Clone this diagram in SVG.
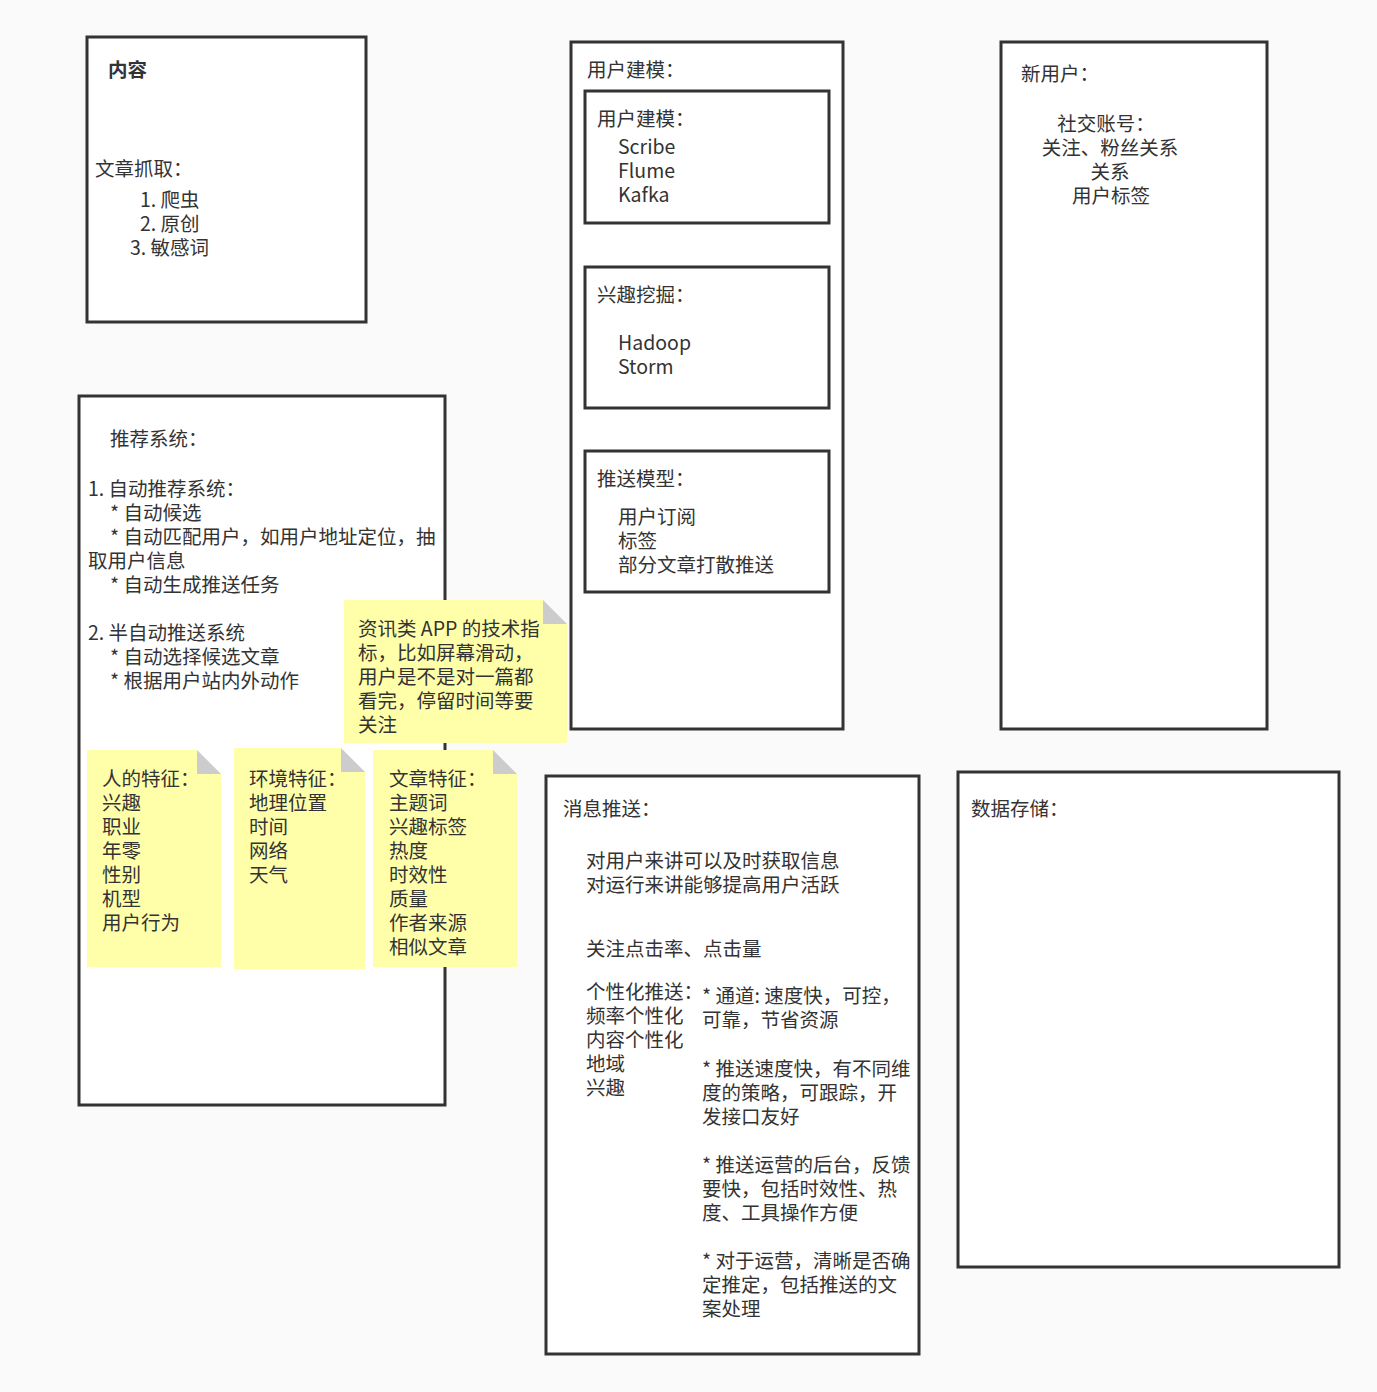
<svg xmlns="http://www.w3.org/2000/svg" width="1377" height="1392" viewBox="0 0 1377 1392">
<style>
.box{fill:#ffffff;stroke:#333333;stroke-width:3}
.note{fill:#ffffaa;stroke:none}
.fold{fill:#cccccc;stroke:none}
text{font-family:"Noto Sans CJK SC","Microsoft YaHei",sans-serif;font-size:19.5px;fill:#333333}
.b{font-weight:bold}
.c{text-anchor:middle}
</style>
<rect x="0" y="0" width="1377" height="1392" fill="#fafafa"/>
<g id="connectors"></g>

<g id="content">
<rect class="box" x="87" y="37" width="279" height="285"/>
<text class="b" x="108" y="77">内容</text>
<text x="95" y="176">文章抓取：</text>
<text x="140" y="207">1. 爬虫</text>
<text x="140" y="231">2. 原创</text>
<text x="130" y="255">3. 敏感词</text>
</g>

<g id="recommend">
<rect class="box" x="79" y="396" width="366" height="709"/>
<text x="110" y="446">推荐系统：</text>
<text x="88" y="496">1. 自动推荐系统：</text>
<text x="110" y="520">* 自动候选</text>
<text x="110" y="544">* 自动匹配用户，如用户地址定位，抽</text>
<text x="88" y="568">取用户信息</text>
<text x="110" y="592">* 自动生成推送任务</text>
<text x="88" y="640">2. 半自动推送系统</text>
<text x="110" y="664">* 自动选择候选文章</text>
<text x="110" y="688">* 根据用户站内外动作</text>
</g>

<g id="note-app">
<polygon class="note" points="344,600 543,600 567,624 567,743 344,743"/>
<polygon class="fold" points="543,600 567,624 543,624"/>
<text x="358" y="636">资讯类 APP 的技术指</text>
<text x="358" y="660">标，比如屏幕滑动，</text>
<text x="358" y="684">用户是不是对一篇都</text>
<text x="358" y="708">看完，停留时间等要</text>
<text x="358" y="732">关注</text>
</g>

<g id="note-person">
<polygon class="note" points="87,750 197,750 221,774 221,967 87,967"/>
<polygon class="fold" points="197,750 221,774 197,774"/>
<text x="102" y="786">人的特征：</text>
<text x="102" y="810">兴趣</text>
<text x="102" y="834">职业</text>
<text x="102" y="858">年零</text>
<text x="102" y="882">性别</text>
<text x="102" y="906">机型</text>
<text x="102" y="930">用户行为</text>
</g>

<g id="note-env">
<polygon class="note" points="234,748 341,748 365,772 365,969 234,969"/>
<polygon class="fold" points="341,748 365,772 341,772"/>
<text x="249" y="786">环境特征：</text>
<text x="249" y="810">地理位置</text>
<text x="249" y="834">时间</text>
<text x="249" y="858">网络</text>
<text x="249" y="882">天气</text>
</g>

<g id="note-article">
<polygon class="note" points="373,750 493,750 517,774 517,967 373,967"/>
<polygon class="fold" points="493,750 517,774 493,774"/>
<text x="389" y="786">文章特征：</text>
<text x="389" y="810">主题词</text>
<text x="389" y="834">兴趣标签</text>
<text x="389" y="858">热度</text>
<text x="389" y="882">时效性</text>
<text x="389" y="906">质量</text>
<text x="389" y="930">作者来源</text>
<text x="389" y="954">相似文章</text>
</g>

<g id="user-modeling">
<rect class="box" x="571" y="42" width="272" height="687"/>
<text x="587" y="77">用户建模：</text>
</g>

<g id="user-modeling-inner">
<rect class="box" x="585" y="91" width="244" height="132"/>
<text x="597" y="126">用户建模：</text>
<text x="618" y="154">Scribe</text>
<text x="618" y="178">Flume</text>
<text x="618" y="202">Kafka</text>
</g>

<g id="interest-mining">
<rect class="box" x="585" y="267" width="244" height="141"/>
<text x="597" y="302">兴趣挖掘：</text>
<text x="618" y="350">Hadoop</text>
<text x="618" y="374">Storm</text>
</g>

<g id="push-model">
<rect class="box" x="585" y="451" width="244" height="141"/>
<text x="597" y="486">推送模型：</text>
<text x="618" y="524">用户订阅</text>
<text x="618" y="548">标签</text>
<text x="618" y="572">部分文章打散推送</text>
</g>

<g id="new-user">
<rect class="box" x="1001" y="42" width="266" height="687"/>
<text x="1021" y="81">新用户：</text>
<text class="c" x="1106" y="131">社交账号：</text>
<text class="c" x="1110" y="155">关注、粉丝关系</text>
<text class="c" x="1110" y="179">关系</text>
<text class="c" x="1111" y="203">用户标签</text>
</g>

<g id="message-push">
<rect class="box" x="546" y="776" width="373" height="578"/>
<text x="563" y="816">消息推送：</text>
<text x="586" y="868">对用户来讲可以及时获取信息</text>
<text x="586" y="892">对运行来讲能够提高用户活跃</text>
<text x="586" y="956">关注点击率、点击量</text>
<text x="586" y="999">个性化推送：</text>
<text x="586" y="1023">频率个性化</text>
<text x="586" y="1047">内容个性化</text>
<text x="586" y="1071">地域</text>
<text x="586" y="1095">兴趣</text>
<text x="702" y="1003">* 通道: 速度快，可控，</text>
<text x="702" y="1027">可靠，节省资源</text>
<text x="702" y="1076">* 推送速度快，有不同维</text>
<text x="702" y="1100">度的策略，可跟踪，开</text>
<text x="702" y="1124">发接口友好</text>
<text x="702" y="1172">* 推送运营的后台，反馈</text>
<text x="702" y="1196">要快，包括时效性、热</text>
<text x="702" y="1220">度、工具操作方便</text>
<text x="702" y="1268">* 对于运营，清晰是否确</text>
<text x="702" y="1292">定推定，包括推送的文</text>
<text x="702" y="1316">案处理</text>
</g>

<g id="data-storage">
<rect class="box" x="958" y="772" width="381" height="495"/>
<text x="971" y="816">数据存储：</text>
</g>
</svg>
